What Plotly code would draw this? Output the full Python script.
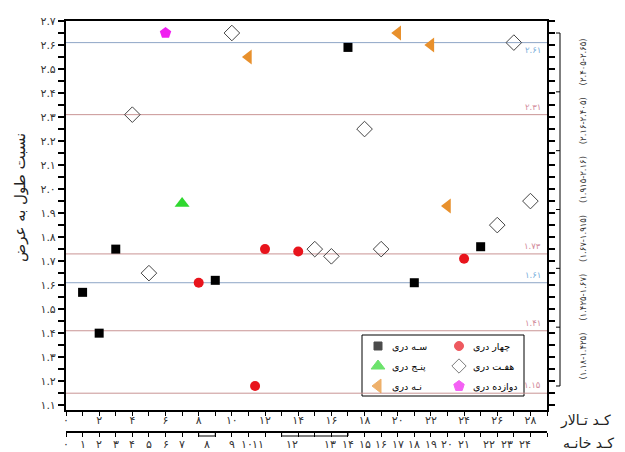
import plotly.graph_objects as go

FA = str.maketrans('0123456789', '۰۱۲۳۴۵۶۷۸۹')
def fa(v):
    return str(v).translate(FA)

# ---------------- data ----------------
three_x = [1, 2, 3, 9, 17, 21, 25]
three_y = [1.57, 1.40, 1.75, 1.62, 2.59, 1.61, 1.76]
four_x = [8, 11.4, 12, 14, 24]
four_y = [1.61, 1.18, 1.75, 1.74, 1.71]
five_x = [7]
five_y = [1.94]
seven_x = [4, 5, 10, 15, 16, 18, 19, 26, 27, 28]
seven_y = [2.31, 1.65, 2.65, 1.75, 1.72, 2.25, 1.75, 1.85, 2.61, 1.95]
nine_x = [11, 20, 22, 23]
nine_y = [2.55, 2.65, 2.60, 1.93]
twelve_x = [6]
twelve_y = [2.65]

ref_values = [2.61, 2.31, 1.73, 1.61, 1.41, 1.15]
ref_kind = ['blue', 'red', 'red', 'blue', 'red', 'red']
class_edges = [1.18, 1.425, 1.67, 1.915, 2.16, 2.405, 2.65]

y_tick_vals = [1.1, 1.2, 1.3, 1.4, 1.5, 1.6, 1.7, 1.8, 1.9, 2.0, 2.1, 2.2, 2.3, 2.4, 2.5, 2.6, 2.7]
y_tick_text = ['1.1', '1.2', '1.3', '1.4', '1.5', '1.6', '1.7', '1.8', '1.9', '2.0',
               '2.1', '2.2', '2.3', '2.4', '2.5', '2.6', '2.7']
hall_tick_vals = [0, 2, 4, 6, 8, 10, 12, 14, 16, 18, 20, 22, 24, 26, 28]
house_labels = list(range(0, 25))
house_pos = [0, 1, 2, 3, 4, 5, 6, 7, 8.5, 10, 10.9, 11.6, 13.6, 15.9, 17, 18, 19, 20, 21, 22, 23, 24,
             25.5, 26.6, 27.7]
house_spans = [(8, 9), (13, 17)]

series_names = ['سـه دری', 'چهار دری', 'پنـج دری', 'هفـت دری', 'نـه دری', 'دوازده دری']

# ---------------- geometry (page pixels; page body has an 8px margin) ----------------
OFF = 8
PAGE_W, PAGE_H = 625, 452
PLOT_L, PLOT_R, PLOT_T, PLOT_B = 66, 547, 21, 410
PAPER_B = 444
W, H = PAGE_W - OFF, PAGE_H - OFF
L, R, T, B = PLOT_L - OFF, PAGE_W - PLOT_R, PLOT_T - OFF, PAGE_H - PAPER_B
PW, PH = PLOT_R - PLOT_L, PAPER_B - PLOT_T
y_dom0 = (PAPER_B - PLOT_B) / PH

def px(x):
    return (x - PLOT_L) / PW

def py(y):
    return (PAPER_B - y) / PH

BLUE_LINE, RED_LINE = '#8ea6c6', '#c99494'
BLUE_TXT, RED_TXT = '#77aedb', '#d28c9c'
FONT = 'DejaVu Sans'

styles = [
    dict(symbol='square', size=9, color='black'),
    dict(symbol='circle', size=10, color='#e8141c'),
    dict(symbol='triangle-up', size=13, color='#2fd82f'),
    dict(symbol='diamond-open', size=12, color='#444444', line=dict(width=1, color='#444444')),
    dict(symbol='triangle-left', size=13, color='#e8902c'),
    dict(symbol='pentagon', size=12, color='#f01ef0'),
]
xs = [three_x, four_x, five_x, seven_x, nine_x, twelve_x]
ys = [three_y, four_y, five_y, seven_y, nine_y, twelve_y]

fig = go.Figure()
for name, st, x, y in zip(series_names, styles, xs, ys):
    fig.add_trace(go.Scatter(x=x, y=y, mode='markers', name=name, marker=st,
                             showlegend=False, cliponaxis=False))

# dummy trace so the lower (house code) axis is drawn
fig.add_trace(go.Scatter(x=[None], y=[None], xaxis='x2', yaxis='y', showlegend=False,
                         hoverinfo='skip'))

# manual legend (marker then text, two columns), on a pixel-unit helper subplot
leg_cols = [378, 459]
leg_rows = [346, 366, 386]
leg_order = [(0, 0, 0), (1, 1, 0), (2, 0, 1), (3, 1, 1), (4, 0, 2), (5, 1, 2)]
fig.add_trace(go.Scatter(
    x=[leg_cols[c] for _, c, _ in leg_order],
    y=[leg_rows[r] for _, _, r in leg_order],
    xaxis='x3', yaxis='y3', mode='markers', showlegend=False, hoverinfo='skip',
    cliponaxis=False,
    marker=dict(symbol=[styles[i]['symbol'] for i, _, _ in leg_order],
                size=[styles[i]['size'] - 1 for i, _, _ in leg_order],
                color=[styles[i]['color'] for i, _, _ in leg_order],
                line=dict(width=1, color=[styles[i]['color'] for i, _, _ in leg_order]))))

shapes = []
annotations = []

# legend box
shapes.append(dict(type='rect', xref='paper', yref='paper', x0=px(362), x1=px(524),
                   y0=py(396), y1=py(335), line=dict(color='black', width=1),
                   fillcolor='white', layer='below'))
for i, c, r in leg_order:
    annotations.append(dict(text=series_names[i], xref='paper', yref='paper',
                            x=px(leg_cols[c] + 12), y=py(leg_rows[r]), xanchor='left',
                            yanchor='middle', showarrow=False,
                            font=dict(size=9.5, color='black', family=FONT)))

# reference lines with labels
for v, k in zip(ref_values, ref_kind):
    shapes.append(dict(type='line', xref='paper', yref='y', x0=0, x1=1, y0=v, y1=v,
                       line=dict(color=BLUE_LINE if k == 'blue' else RED_LINE, width=1),
                       layer='below'))
    annotations.append(dict(text=fa(v), xref='x', yref='y', x=28.15, y=v,
                            xanchor='center', yanchor='middle',
                            yshift=(-7 if v == 2.61 else 8), showarrow=False,
                            font=dict(size=8.5, color=BLUE_TXT if k == 'blue' else RED_TXT,
                                      family=FONT)))

# right bracket with class ranges
bx = px(560)
shapes.append(dict(type='line', xref='paper', yref='y', x0=bx, x1=bx,
                   y0=class_edges[0], y1=class_edges[-1], line=dict(color='black', width=1)))
for e in class_edges:
    shapes.append(dict(type='line', xref='paper', yref='y', x0=px(556), x1=bx, y0=e, y1=e,
                       line=dict(color='black', width=1)))
for lo, hi in zip(class_edges[:-1], class_edges[1:]):
    annotations.append(dict(text='(' + fa(lo) + '-' + fa(hi) + ')', xref='paper', yref='y',
                            x=px(583), y=(lo + hi) / 2, textangle=-90, showarrow=False,
                            xanchor='center', yanchor='middle',
                            font=dict(size=8.5, color='#333333', family=FONT)))

# house-code axis: boxes and labels
ax2_pos = py(432)
for a, b in house_spans:
    shapes.append(dict(type='rect', xref='x', yref='paper', x0=a, x1=b,
                       y0=ax2_pos - 4 / PH, y1=ax2_pos, line=dict(color='black', width=1)))
for pos, lab in zip(house_pos, house_labels):
    annotations.append(dict(text=fa(lab), xref='x', yref='paper', x=pos, y=py(444),
                            xanchor='center', yanchor='middle', showarrow=False,
                            font=dict(size=11, color='#333333', family=FONT)))

# axis titles
annotations.append(dict(text='نسبت طول به عرض', xref='paper', yref='paper', x=px(20),
                        y=py(198), textangle=-90, showarrow=False,
                        xanchor='center', yanchor='middle',
                        font=dict(size=15, color='#222222', family=FONT)))
annotations.append(dict(text='کـد تـالار', xref='paper', yref='paper', x=px(585), y=py(420),
                        xanchor='center', yanchor='middle',
                        showarrow=False, font=dict(size=14, color='#222222', family=FONT)))
annotations.append(dict(text='کـد خانـه', xref='paper', yref='paper', x=px(588), y=py(443),
                        xanchor='center', yanchor='middle',
                        showarrow=False, font=dict(size=14, color='#222222', family=FONT)))

tickfont = dict(size=11, color='#333333', family=FONT)
fig.update_layout(
    width=W, height=H, margin=dict(l=L, r=R, t=T, b=B, autoexpand=False),
    paper_bgcolor='white', plot_bgcolor='rgba(0,0,0,0)', showlegend=False,
    xaxis=dict(range=[0, 29], domain=[0, 1], anchor='y', showgrid=False, zeroline=False,
               showline=True, linecolor='black', linewidth=2, mirror=True,
               tickmode='array', tickvals=hall_tick_vals, ticktext=[fa(v) for v in hall_tick_vals],
               ticks='outside', ticklen=4, tickwidth=1, tickcolor='black', tickfont=tickfont,
               ticklabelstandoff=-5,
               minor=dict(tickmode='linear', tick0=1, dtick=2, ticks='outside', ticklen=4,
                          tickwidth=1, tickcolor='black', showgrid=False)),
    yaxis=dict(range=[1.08, 2.7], domain=[y_dom0, 1], anchor='x', showgrid=False, zeroline=False,
               showline=True, linecolor='black', linewidth=2, mirror='allticks',
               tickmode='array', tickvals=y_tick_vals, ticktext=[fa(t) for t in y_tick_text],
               ticks='outside', ticklen=6, tickwidth=1.5, tickcolor='black', tickfont=tickfont,
               minor=dict(tickmode='linear', tick0=1.15, dtick=0.1, ticks='outside', ticklen=6,
                          tickwidth=1.5, tickcolor='black', showgrid=False)),
    xaxis2=dict(range=[0, 29], overlaying='x', anchor='free', position=ax2_pos, side='bottom',
                showgrid=False, zeroline=False, showline=True, linecolor='black', linewidth=1.5,
                tickmode='linear', tick0=0, dtick=1, ticks='outside', ticklen=4,
                tickwidth=1, tickcolor='black', showticklabels=False),
    xaxis3=dict(range=[PLOT_L, PLOT_R], domain=[0, 1], anchor='y3', visible=False,
                fixedrange=True),
    yaxis3=dict(range=[PAPER_B, PLOT_T], domain=[0, 1], anchor='x3', visible=False,
                fixedrange=True),
    shapes=shapes, annotations=annotations,
)

fig.write_html('out.html')
